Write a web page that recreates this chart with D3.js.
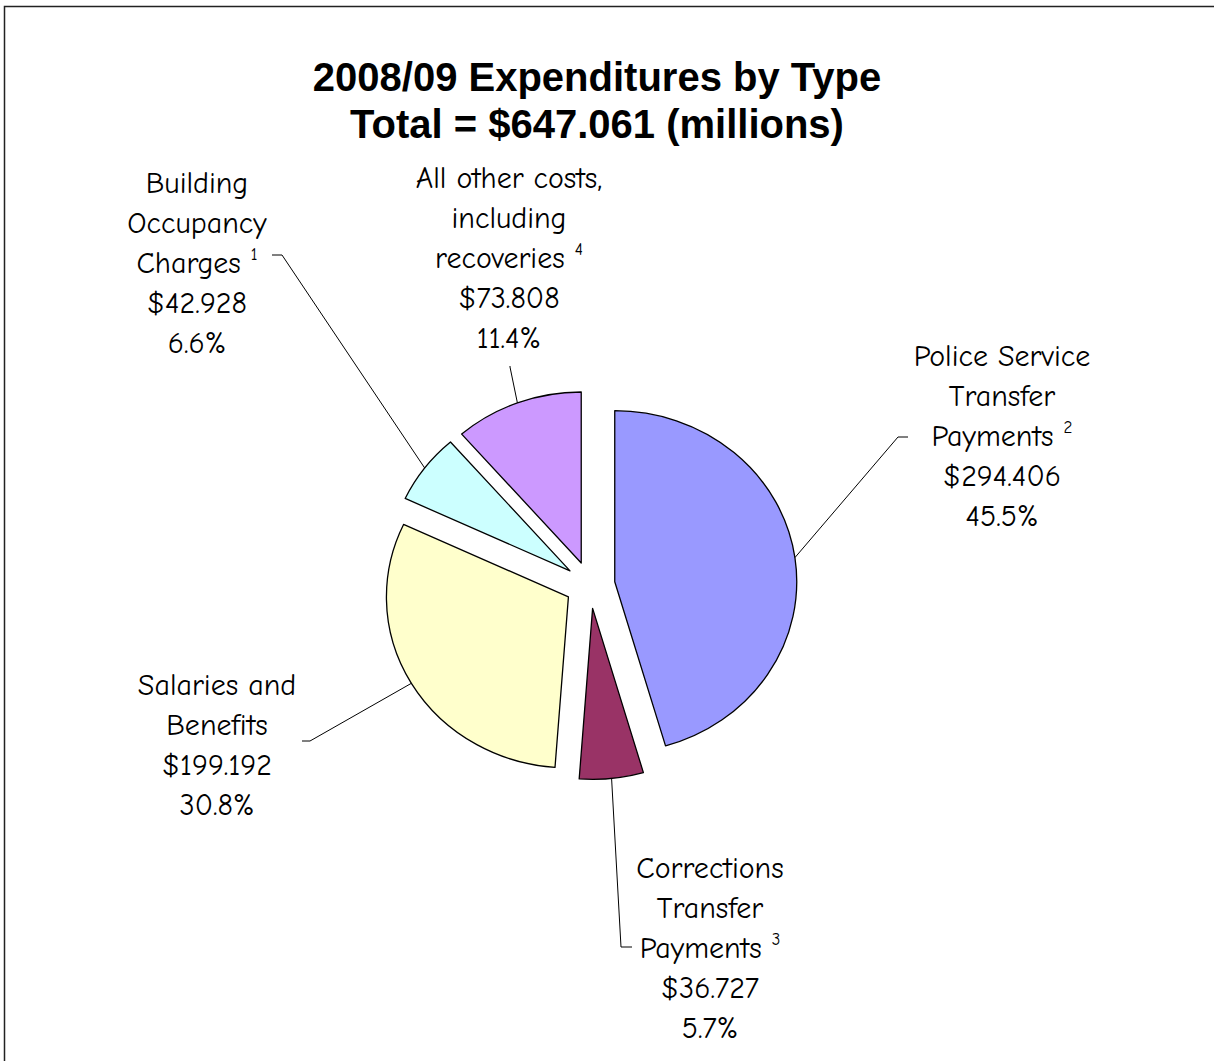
<!DOCTYPE html>
<html><head><meta charset="utf-8">
<script src="https://cdn.jsdelivr.net/npm/d3@7"></script>
<style>html,body{margin:0;padding:0;background:#fff;}</style>
</head><body>
<script>
// ---- data ----
const categories = ["Police Service Transfer Payments", "Corrections Transfer Payments", "Salaries and Benefits", "Building Occupancy Charges", "All other costs, including recoveries"];
const labelLines = [["Police Service", "Transfer", "Payments"], ["Corrections", "Transfer", "Payments"], ["Salaries and", "Benefits"], ["Building", "Occupancy", "Charges"], ["All other costs,", "including", "recoveries"]];
const footnotes = ["2", "3", "", "1", "4"];
const values = [294.406, 36.727, 199.192, 42.928, 73.808];
const valueLabels = ["$294.406", "$36.727", "$199.192", "$42.928", "$73.808"];
const percentLabels = ["45.5%", "5.7%", "30.8%", "6.6%", "11.4%"];
const titleLines = ["2008/09 Expenditures by Type", "Total = $647.061 (millions)"];
const colors = ["#9999FF", "#993366", "#FFFFCC", "#CCFFFF", "#CC99FF"];

// ---- layout ----
const W = 1214, H = 1061;
const cx = 590, cy = 585, R = 182, ky = 171 / 182, explode = 25;
const labelLayout = [
  {x: 1002, y: 366, elbow: [898, 437], end: [908, 437]},
  {x: 710, y: 878, elbow: [621, 947], end: [632, 947]},
  {x: 217, y: 695, elbow: [310, 741], end: [302, 741]},
  {x: 197, y: 193, elbow: [282, 255], end: [272, 255]},
  {x: 509, y: 188, elbow: [510, 367], end: [510, 366]}
];
const lineH = 40;
const labelFont = "'Comic Sans MS','Comic Neue','DejaVu Sans',sans-serif";

const svg = d3.select("body").append("svg").attr("width", W).attr("height", H);
svg.append("rect").attr("width", W).attr("height", H).attr("fill", "#fff");
// frame
svg.append("path").attr("d", `M4.5,${H} L4.5,6.5 L${W},6.5`).attr("fill", "none").attr("stroke", "#222").attr("stroke-width", 1.5);

// title
svg.append("g").selectAll("text").data(titleLines).join("text")
  .attr("x", 597).attr("y", (d, i) => 91 + i * 47)
  .attr("text-anchor", "middle")
  .attr("font-family", "'Liberation Sans',Arial,sans-serif")
  .attr("font-weight", "bold").attr("font-size", 40)
  .attr("fill", "#000").text(d => d);

const pie = d3.pie().sort(null).value(d => d)(values);
const arc = d3.arc().innerRadius(0).outerRadius(R);

const gPie = svg.append("g").attr("transform", `translate(${cx},${cy}) scale(1,${ky})`);
gPie.selectAll("path").data(pie).join("path")
  .attr("transform", d => {
    const a = (d.startAngle + d.endAngle) / 2;
    return `translate(${explode * Math.sin(a)},${-explode * Math.cos(a)})`;
  })
  .attr("d", arc)
  .attr("fill", (d, i) => colors[i])
  .attr("stroke", "#000").attr("stroke-width", 1.3)
  .attr("vector-effect", "non-scaling-stroke")
  .attr("stroke-linejoin", "round");

// leader lines
svg.append("g").selectAll("path").data(pie).join("path")
  .attr("d", (d, i) => {
    const a = (d.startAngle + d.endAngle) / 2;
    const px = cx + (explode + R) * Math.sin(a);
    const py = cy - (explode + R) * Math.cos(a) * ky;
    const L = labelLayout[i];
    return `M${px},${py} L${L.elbow[0]},${L.elbow[1]} L${L.end[0]},${L.end[1]}`;
  })
  .attr("fill", "none").attr("stroke", "#000").attr("stroke-width", 1);

// labels
pie.forEach((d, i) => {
  const L = labelLayout[i];
  const lines = labelLines[i].concat([valueLabels[i], percentLabels[i]]);
  const g = svg.append("g");
  lines.forEach((ln, j) => {
    const t = g.append("text").attr("x", L.x).attr("y", L.y + j * lineH)
      .attr("text-anchor", "middle").attr("font-family", labelFont)
      .attr("font-size", 30).attr("fill", "#000");
    t.append("tspan").text(ln);
    if (j === labelLines[i].length - 1 && footnotes[i]) {
      t.append("tspan").text("\u00a0");
      t.append("tspan").attr("font-size", 17).attr("dy", -13).text(footnotes[i]);
    }
  });
});
</script>
</body></html>
